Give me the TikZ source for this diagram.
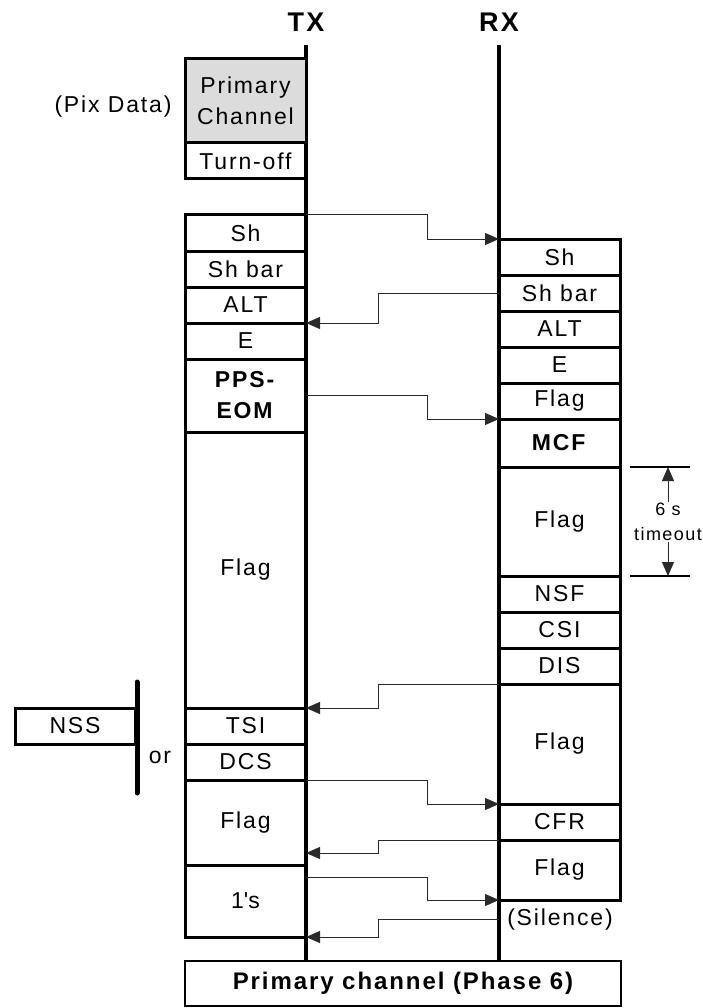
\documentclass[tikz,border=0pt]{standalone}
\usepackage{fontspec}
\setmainfont{Liberation Sans}[LetterSpace=8]
\usetikzlibrary{arrows.meta,positioning}
\definecolor{pixgray}{HTML}{DCDCDC}
\definecolor{wire}{HTML}{2A2A2A}

\begin{document}
\begin{tikzpicture}[x=1pt,y=-1pt,font=\fontsize{23}{31}\selectfont,
  cell/.style={draw,line width=3pt,minimum width=121pt,inner sep=0pt,outer sep=0pt,
    align=center,anchor=north west},
  msg/.style={draw=wire,line width=1pt,-{Triangle[length=14pt,width=12pt]}},
  life/.style={line width=3.2pt},
  station/.style={font=\fontsize{27}{30}\selectfont\bfseries}]
  \useasboundingbox (0,0) rectangle (703,1008);
  % stations
  \node[station] (tx) at (306,22) {TX};
  \node[station] (rx) at (499,22) {RX};
  \coordinate (txtop) at (306,45);
  \coordinate (rxtop) at (499,45);
  \node[draw,line width=2.2pt,minimum width=436pt,minimum height=45pt,anchor=north west,
    outer sep=0pt,font=\fontsize{24}{28}\selectfont\bfseries] (phase) at (185,961)
    {Primary channel (Phase 6)};
  \draw[life] (txtop) -- (txtop |- phase.north);
  \draw[life] (rxtop) -- (rxtop |- phase.north);
  % TX side
  \node (pix) at (113,107) {(Pix Data)};
  \node[cell,fill=pixgray,minimum height=84pt] (lprim) at (185,59) {Primary\\Channel};
  \node[cell,minimum height=36pt] (loff) at (185,143) {Turn-off};
  \foreach \n/\t/\h/\s in {sh/215/36/Sh, shbar/251/36/Sh bar, alt/287/36/ALT, e/323/36/E,
      eom/359/73/{\textbf{PPS-}\\\textbf{EOM}}, flaga/432/276/Flag, tsi/708/36/TSI,
      dcs/744/36/DCS, flagb/780/85/Flag, ones/865/72/1\textquotesingle s}
    \node[cell,minimum height=\h pt] (l\n) at (185,\t) {\s};
  % NSS alternative
  \node[cell,minimum width=120pt,minimum height=36pt] (nss) at (15,708) {NSS};
  \coordinate (bartop) at (137,682);
  \coordinate (barbot) at (137,793);
  \draw[line width=5pt,line cap=round] (bartop) -- (barbot);
  \node (or) at (160,757) {or};
  % RX side
  \foreach \n/\t/\h/\s in {sh/239/36/Sh, shbar/275/36/Sh bar, alt/311/36/ALT, e/347/36/E,
      flaga/383/36/Flag, mcf/419/48/\textbf{MCF}, flagb/467/109/Flag, nsf/576/36/NSF,
      csi/612/36/CSI, dis/648/36/DIS, flagc/684/120/Flag, cfr/804/36/CFR, flagd/840/60/Flag}
    \node[cell,minimum height=\h pt] (r\n) at (499,\t) {\s};
  \node (silence) at (560,920) {(Silence)};
  % timeout
  \node[align=center,font=\fontsize{18}{25}\selectfont,inner sep=1pt] (tmo) at (668,522)
    {6 s\\timeout};
  \coordinate (tmotop) at (668,467);
  \coordinate (tmobot) at (668,576);
  \draw[line width=1.2pt] (630,467) -- (690,467) (630,576) -- (690,576);
  \draw[msg] (tmo.north) -- (tmotop);
  \draw[msg] (tmo.south) -- (tmobot);
  % messages
  \coordinate (t6) at (306,853);
  \coordinate (t7) at (306,877);
  \coordinate (r8) at (499,919);
  \draw[msg] (lsh.north east) -- ++(121,0) |- (rsh.north west);
  \draw[msg] (rshbar.west) -- ++(-121,0) |- (lalt.south east);
  \draw[msg] (leom.east) -- ++(121,0) |- (rflaga.south west);
  \draw[msg] (rdis.south west) -- ++(-121,0) |- (ltsi.north east);
  \draw[msg] (ldcs.south east) -- ++(121,0) |- (rcfr.north west);
  \draw[msg] (rcfr.south west) -- ++(-121,0) |- (t6);
  \draw[msg] (t7) -- ++(121,0) |- (rflagd.south west);
  \draw[msg] (r8) -- ++(-121,0) |- (lones.south east);
\end{tikzpicture}
\end{document}
